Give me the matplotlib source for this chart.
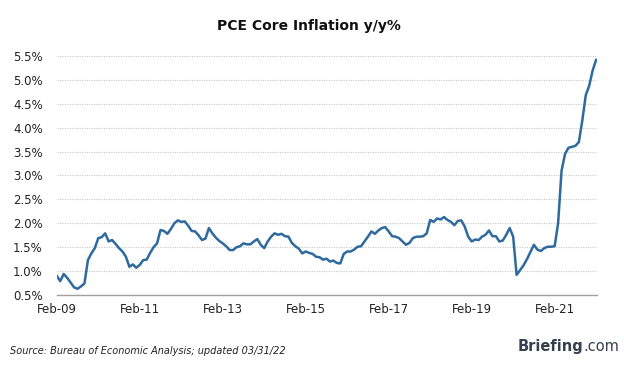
import matplotlib
matplotlib.use("Agg")
import matplotlib.pyplot as plt
import pandas as pd

# monthly PCE core y/y %, Feb-09 .. Feb-22
core_pce = [
    0.90, 0.79, 0.94, 0.86, 0.76, 0.66, 0.63, 0.68, 0.74, 1.23, 1.37, 1.48,
    1.69, 1.71, 1.79, 1.62, 1.65, 1.57, 1.48, 1.41, 1.30, 1.09, 1.14, 1.07,
    1.13, 1.23, 1.24, 1.38, 1.50, 1.58, 1.86, 1.84, 1.78, 1.88, 2.00, 2.06,
    2.03, 2.04, 1.95, 1.84, 1.83, 1.75, 1.65, 1.68, 1.90, 1.79, 1.70, 1.63,
    1.58, 1.52, 1.44, 1.44, 1.50, 1.52, 1.58, 1.56, 1.56, 1.62, 1.67, 1.55,
    1.48, 1.62, 1.72, 1.79, 1.76, 1.78, 1.73, 1.72, 1.59, 1.52, 1.47, 1.37,
    1.41, 1.38, 1.36, 1.30, 1.29, 1.24, 1.26, 1.20, 1.22, 1.17, 1.16, 1.36,
    1.41, 1.41, 1.45, 1.51, 1.52, 1.62, 1.72, 1.83, 1.78, 1.85, 1.90, 1.92,
    1.83, 1.73, 1.72, 1.69, 1.62, 1.55, 1.59, 1.69, 1.72, 1.72, 1.73, 1.79,
    2.07, 2.03, 2.10, 2.08, 2.13, 2.07, 2.03, 1.96, 2.05, 2.06, 1.93, 1.72,
    1.62, 1.66, 1.65, 1.72, 1.76, 1.85, 1.73, 1.73, 1.62, 1.64, 1.76, 1.90,
    1.72, 0.92, 1.02, 1.12, 1.25, 1.40, 1.55, 1.45, 1.42, 1.48, 1.51, 1.51,
    1.52, 2.00, 3.10, 3.45, 3.58, 3.60, 3.62, 3.70, 4.15, 4.68, 4.88, 5.20,
    5.42,
]
months = pd.date_range("2009-02-01", periods=len(core_pce), freq="MS")
x_labels = ["Feb-09", "Feb-11", "Feb-13", "Feb-15", "Feb-17", "Feb-19", "Feb-21"]
y_ticks = [0.5, 1.0, 1.5, 2.0, 2.5, 3.0, 3.5, 4.0, 4.5, 5.0, 5.5]

fig = plt.figure(figsize=(6.24, 3.66), dpi=100)
ax = fig.add_axes([0.091, 0.194, 0.866, 0.653])

ax.plot(range(len(core_pce)), core_pce, color="#2f6a9e", lw=1.8, solid_joinstyle="round")

# x ticks every two years, at the Feb of each
tick_pos = [i for i, d in enumerate(months) if d.month == 2 and d.year % 2 == 1]
ax.set_xticks(tick_pos)
ax.set_xticklabels(x_labels)
ax.set_xlim(0, len(core_pce) - 1 + 0.3)

ax.set_ylim(0.5, 5.5)
ax.set_yticks(y_ticks)
ax.set_yticklabels(["{:.1f}%".format(v) for v in y_ticks])
ax.yaxis.grid(True, color="#c8c8c8", linestyle=(0, (1, 1.2)), lw=0.8)
ax.set_axisbelow(True)

for s in ["top", "right", "left"]:
    ax.spines[s].set_visible(False)
ax.spines["bottom"].set_color("#a0a0a0")
ax.spines["bottom"].set_linewidth(1.0)
ax.tick_params(axis="both", length=0, labelsize=8.5, colors="#222222")
ax.tick_params(axis="x", pad=6)
ax.tick_params(axis="y", pad=10)

fig.text(0.495, 0.93, "PCE Core Inflation y/y%", ha="center", va="center",
         fontsize=10, fontweight="bold", color="#111111")
fig.text(0.016, 0.04, "Source: Bureau of Economic Analysis; updated 03/31/22",
         ha="left", va="center", fontsize=7, style="italic", color="#222222")

# logo: ".com" right-aligned, "Briefing" placed just to its left
com = fig.text(0.993, 0.052, ".com", ha="right", va="center", fontsize=10.5,
               color="#34404e")
fig.canvas.draw()
bb = com.get_window_extent(fig.canvas.get_renderer())
fig.text(bb.x0 / fig.bbox.width, 0.052, "Briefing", ha="right", va="center",
         fontsize=10.5, fontweight="bold", color="#34404e")

fig.savefig("out.png", dpi=100)
